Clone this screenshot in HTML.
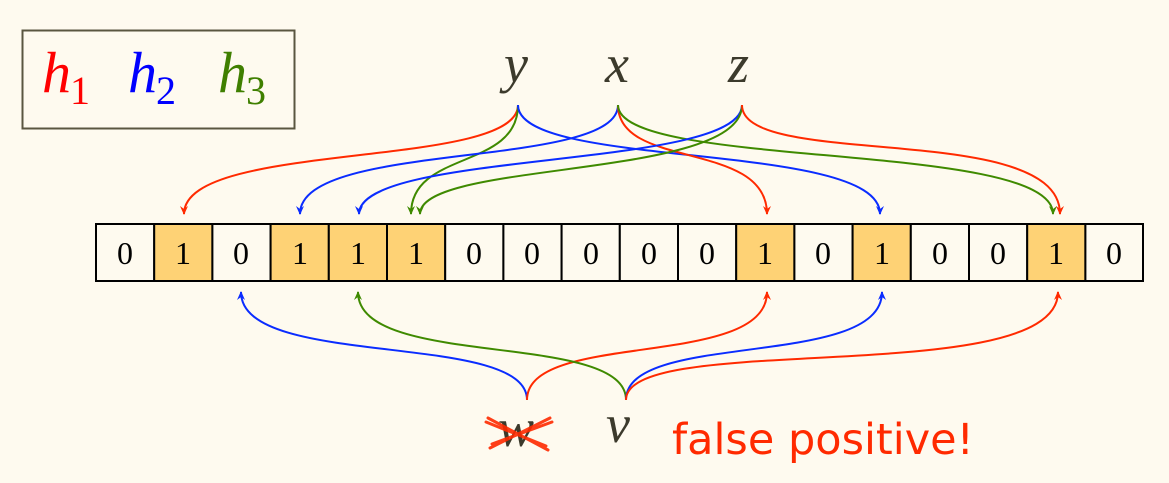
<!DOCTYPE html>
<html><head><meta charset="utf-8"><style>
html,body{margin:0;padding:0;background:#fefaef;}
svg{display:block}
</style></head><body>
<svg width="1169" height="483" viewBox="0 0 1169 483" xmlns="http://www.w3.org/2000/svg">
<defs>
<marker id="ar" markerWidth="10" markerHeight="10" refX="8" refY="5" orient="auto" markerUnits="userSpaceOnUse"><path d="M0,1 L9,5 L0,9 L3,5 Z" fill="#ff2a00"/></marker>
<marker id="ab" markerWidth="10" markerHeight="10" refX="8" refY="5" orient="auto" markerUnits="userSpaceOnUse"><path d="M0,1 L9,5 L0,9 L3,5 Z" fill="#0a2cff"/></marker>
<marker id="ag" markerWidth="10" markerHeight="10" refX="8" refY="5" orient="auto" markerUnits="userSpaceOnUse"><path d="M0,1 L9,5 L0,9 L3,5 Z" fill="#3f8a00"/></marker>
</defs>
<rect width="1169" height="483" fill="#fefaef"/>
<rect x="22.5" y="30.5" width="272" height="98" fill="none" stroke="#5a5640" stroke-width="2"/>
<g font-family="Liberation Serif, serif" font-style="italic" font-size="58">
<text x="42" y="92" fill="#ff0000">h</text><text x="70" y="104" font-size="40" font-style="normal" fill="#ff0000">1</text>
<text x="128" y="92" fill="#0000ff">h</text><text x="156" y="104" font-size="40" font-style="normal" fill="#0000ff">2</text>
<text x="218" y="92" fill="#3f7f00">h</text><text x="246" y="104" font-size="40" font-style="normal" fill="#3f7f00">3</text>
<g fill="#3c3a2c" font-size="54">
<text x="504" y="82">y</text><text x="605" y="82">x</text><text x="728" y="82">z</text>
<text x="606" y="442">v</text>
<text x="498" y="446">w</text>
</g>
</g>
<g stroke="#ff2a00" stroke-width="3" stroke-linecap="round" opacity="0.9">
<line x1="488" y1="418" x2="548" y2="450"/><line x1="490" y1="448" x2="550" y2="418"/>
<line x1="486" y1="422" x2="546" y2="446"/><line x1="492" y1="444" x2="552" y2="422"/>
</g>
<text x="672" y="454" font-family="'Comic Sans MS','DejaVu Sans',sans-serif" font-size="43" fill="#ff2a00">false positive!</text>
<g fill="none" stroke-width="2">
<path d="M518,105 C518,170 184,140 184,214" stroke="#ff2a00" marker-end="url(#ar)"/>
<path d="M518,105 C518,170 411,150 411,214" stroke="#3f8a00" marker-end="url(#ag)"/>
<path d="M518,105 C518,170 880,140 880,214" stroke="#0a2cff" marker-end="url(#ab)"/>
<path d="M618,105 C618,170 300,140 300,214" stroke="#0a2cff" marker-end="url(#ab)"/>
<path d="M618,105 C618,170 767,140 767,214" stroke="#ff2a00" marker-end="url(#ar)"/>
<path d="M618,105 C618,170 1053,140 1053,214" stroke="#3f8a00" marker-end="url(#ag)"/>
<path d="M742,105 C742,170 359,150 359,214" stroke="#0a2cff" marker-end="url(#ab)"/>
<path d="M742,105 C742,180 420,160 420,214" stroke="#3f8a00" marker-end="url(#ag)"/>
<path d="M742,105 C742,170 1060,120 1060,214" stroke="#ff2a00" marker-end="url(#ar)"/>
<path d="M527,400 C527,330 241,370 241,292" stroke="#0a2cff" marker-end="url(#ab)"/>
<path d="M527,400 C527,330 767,370 767,292" stroke="#ff2a00" marker-end="url(#ar)"/>
<path d="M626,400 C626,330 358,370 358,292" stroke="#3f8a00" marker-end="url(#ag)"/>
<path d="M626,400 C626,330 882,370 882,292" stroke="#0a2cff" marker-end="url(#ab)"/>
<path d="M626,400 C626,330 1058,390 1058,292" stroke="#ff2a00" marker-end="url(#ar)"/>
</g>
<g font-family="Liberation Serif, serif" font-size="32" text-anchor="middle" stroke-width="2">
<g stroke="#000">
<rect x="96" y="224" width="58.2" height="57" fill="#fefaef"/>
<rect x="154.2" y="224" width="58.2" height="57" fill="#fed275"/>
<rect x="212.4" y="224" width="58.2" height="57" fill="#fefaef"/>
<rect x="270.6" y="224" width="58.2" height="57" fill="#fed275"/>
<rect x="328.8" y="224" width="58.2" height="57" fill="#fed275"/>
<rect x="387" y="224" width="58.2" height="57" fill="#fed275"/>
<rect x="445.2" y="224" width="58.2" height="57" fill="#fefaef"/>
<rect x="503.4" y="224" width="58.2" height="57" fill="#fefaef"/>
<rect x="561.6" y="224" width="58.2" height="57" fill="#fefaef"/>
<rect x="619.8" y="224" width="58.2" height="57" fill="#fefaef"/>
<rect x="678" y="224" width="58.2" height="57" fill="#fefaef"/>
<rect x="736.2" y="224" width="58.2" height="57" fill="#fed275"/>
<rect x="794.4" y="224" width="58.2" height="57" fill="#fefaef"/>
<rect x="852.6" y="224" width="58.2" height="57" fill="#fed275"/>
<rect x="910.8" y="224" width="58.2" height="57" fill="#fefaef"/>
<rect x="969" y="224" width="58.2" height="57" fill="#fefaef"/>
<rect x="1027.2" y="224" width="58.2" height="57" fill="#fed275"/>
<rect x="1085.4" y="224" width="57.6" height="57" fill="#fefaef"/>
</g>
<g fill="#000">
<text x="125" y="264">0</text><text x="183" y="264">1</text><text x="241" y="264">0</text><text x="300" y="264">1</text><text x="358" y="264">1</text><text x="416" y="264">1</text><text x="474" y="264">0</text><text x="532" y="264">0</text><text x="591" y="264">0</text><text x="649" y="264">0</text><text x="707" y="264">0</text><text x="765" y="264">1</text><text x="823" y="264">0</text><text x="882" y="264">1</text><text x="940" y="264">0</text><text x="998" y="264">0</text><text x="1056" y="264">1</text><text x="1114" y="264">0</text>
</g>
</g>
</svg>
</body></html>
